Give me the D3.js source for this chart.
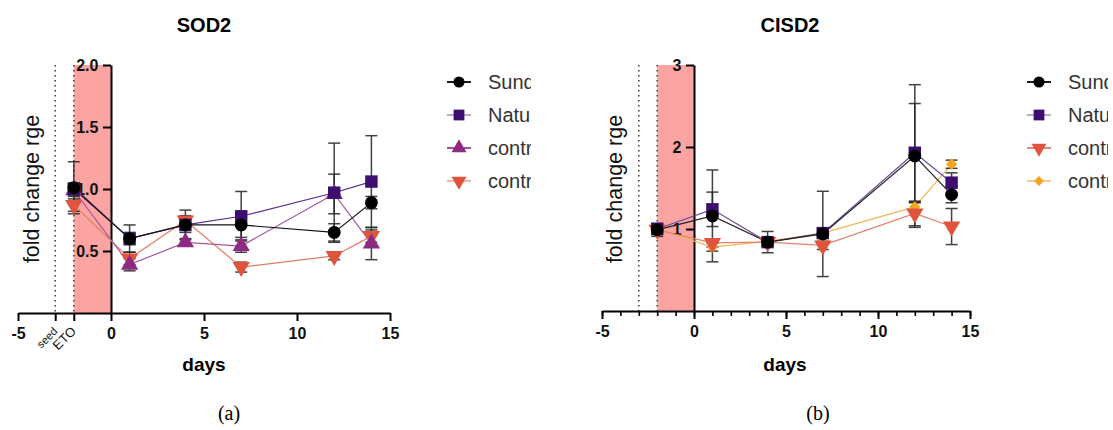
<!DOCTYPE html>
<html>
<head>
<meta charset="utf-8">
<script src="https://cdn.jsdelivr.net/npm/d3@7"></script>
<style>
  body { margin: 0; background: #fff; }
  svg { font-family: "Liberation Sans", Arial, sans-serif; }
</style>
</head>
<body>
<svg id="chart" width="1113" height="430"></svg>
<script>
// sampling days
const days = [-2, 1, 4, 7, 12, 14];

// SOD2 (panel a)
const sodNames = ["Sundew", "Nature", "control A", "control B"];
const sodSunc = [1.01, 0.60, 0.71, 0.71, 0.65, 0.89];
const sodSuncErr = [0.21, 0.11, 0.12, 0.10, 0.07, 0.05];
const sodNatu = [1.00, 0.60, 0.71, 0.78, 0.97, 1.06];
const sodNatuErr = [0.05, 0.05, 0.06, 0.20, 0.40, 0.37];
const sodContrA = [0.99, 0.39, 0.57, 0.54, 0.96, 0.56];
const sodContrAErr = [0.05, 0.05, 0.03, 0.05, 0.16, 0.13];
const sodContrB = [0.87, 0.44, 0.745, 0.37, 0.46, 0.62];
const sodContrBErr = [0.05, 0.05, 0.04, 0.04, 0.03, 0.05];

// CISD2 (panel b)
const cisNames = ["Sundew", "Nature", "control B", "control C"];
const cisSunc = [0.99, 1.16, 0.84, 0.94, 1.89, 1.42];
const cisSuncErr = [0.08, 0.56, 0.13, 0.52, 0.87, 0.10];
const cisNatu = [1.00, 1.24, 0.84, 0.95, 1.93, 1.565];
const cisNatuErr = [0.05, 0.21, 0.05, 0.05, 0.60, 0.12];
const cisContrB = [0.99, 0.83, 0.84, 0.80, 1.19, 1.03];
const cisContrBErr = [0.04, 0.05, 0.04, 0.05, 0.15, 0.22];
const cisContrC = [1.00, 0.78, 0.85, 0.95, 1.27, 1.79];
const cisContrCErr = [0.04, 0.05, 0.04, 0.05, 0.05, 0.05];

const xTicks = [-5, 0, 5, 10, 15];

const svg = d3.select("#chart");

function drawPanel(cfg) {
  const g = svg.append("g");
  const x = d3.scaleLinear().domain([-5, 15]).range(cfg.xRange);
  const y = d3.scaleLinear().domain([0, cfg.yMax]).range(cfg.yRange);

  // ETO treatment band
  g.append("rect")
    .attr("x", x(-2)).attr("y", y(cfg.yMax))
    .attr("width", x(0) - x(-2)).attr("height", y(0) - y(cfg.yMax))
    .attr("fill", "#fba4a2");

  // dotted markers for seed / ETO
  [-3, -2].forEach(v => {
    g.append("line")
      .attr("x1", x(v)).attr("x2", x(v))
      .attr("y1", y(cfg.yMax)).attr("y2", y(0))
      .attr("stroke", "#444").attr("stroke-width", 1.6)
      .attr("stroke-dasharray", "1.4,3.6");
  });

  // x axis
  let xVals = cfg.seedLabels ? [-5, -3, -2, 0, 5, 10, 15] : xTicks;
  if (cfg.minor) {
    g.append("g").attr("transform", `translate(0,${y(0)})`)
      .call(d3.axisBottom(x).tickValues(d3.range(-5, 16)).tickSize(5).tickFormat(""))
      .call(a => a.select(".domain").remove())
      .call(a => a.selectAll("line").attr("stroke-width", 1.6));
  }
  const xa = g.append("g").attr("transform", `translate(0,${y(0)})`)
    .call(d3.axisBottom(x).tickValues(xVals).tickSize(8).tickSizeOuter(0)
      .tickFormat(d => xTicks.includes(d) ? d : ""));
  xa.select(".domain").attr("stroke-width", 2);
  xa.selectAll("line").attr("stroke-width", 2);
  xa.selectAll("text").attr("font-size", 16).attr("font-weight", "bold").attr("fill", "#111").attr("dy", "0.95em");

  if (cfg.seedLabels) {
    [[-3, "seed", 11], [-2, "ETO", 13]].forEach(([v, t, fs]) => {
      g.append("text")
        .attr("transform", `translate(${x(v) + 3},${y(0) + 19}) rotate(-45)`)
        .attr("text-anchor", "end")
        .attr("font-size", fs)
        .attr("fill", "#111")
        .text(t);
    });
  }

  // y axis at x = 0
  const ya = g.append("g").attr("transform", `translate(${x(0)},0)`)
    .call(d3.axisLeft(y).tickValues(cfg.yTicks).tickSize(8).tickSizeOuter(0)
      .tickFormat(cfg.yFmt));
  ya.select(".domain").attr("stroke-width", 2);
  ya.selectAll("line").attr("stroke-width", 2);
  ya.selectAll("text").attr("font-size", 16).attr("font-weight", "bold").attr("fill", "#111").attr("dx", "-0.1em");

  // titles
  g.append("text").attr("x", cfg.titleX).attr("y", 32)
    .attr("text-anchor", "middle").attr("font-size", 20).attr("font-weight", "bold")
    .text(cfg.title);
  g.append("text").attr("x", cfg.daysX).attr("y", 371)
    .attr("text-anchor", "middle").attr("font-size", 19).attr("font-weight", "bold")
    .text("days");
  g.append("text")
    .attr("transform", `translate(${cfg.yLabelX},189) rotate(-90)`)
    .attr("text-anchor", "middle").attr("font-size", 21.5).attr("fill", "#111")
    .text("fold change rge");
  g.append("text").attr("x", cfg.subX).attr("y", 420)
    .attr("text-anchor", "middle").attr("font-size", 20)
    .attr("font-family", "'Liberation Serif', 'DejaVu Serif', serif")
    .text(cfg.sub);

  const line = d3.line().x((d, i) => x(days[i])).y(d => y(d));

  // series drawn last-first so the black one sits on top
  const series = cfg.series.slice().reverse();
  series.forEach(s => {
    g.append("path").datum(s.values)
      .attr("d", line).attr("fill", "none")
      .attr("stroke", s.lineColor).attr("stroke-width", 1.2);
  });
  series.forEach(s => {
    const eb = g.append("g").attr("stroke", "#222").attr("stroke-width", 1.5).attr("opacity", 0.85);
    s.values.forEach((v, i) => {
      const cx = x(days[i]);
      const lo = y(v - s.err[i]), hi = y(v + s.err[i]);
      eb.append("line").attr("x1", cx).attr("x2", cx).attr("y1", lo).attr("y2", hi);
      eb.append("line").attr("x1", cx - 6).attr("x2", cx + 6).attr("y1", lo).attr("y2", lo);
      eb.append("line").attr("x1", cx - 6).attr("x2", cx + 6).attr("y1", hi).attr("y2", hi);
    });
  });
  series.forEach(s => {
    g.selectAll(null).data(s.values).join("path")
      .attr("d", d3.symbol().type(s.symbol).size(s.size))
      .attr("transform", (d, i) => `translate(${x(days[i])},${y(d)})${s.rot ? ` rotate(${s.rot})` : ""}`)
      .attr("fill", s.color);
  });

  // legend, clipped at the panel edge like the source figure
  const clipId = "clip" + cfg.sub.replace(/\W/g, "");
  svg.append("clipPath").attr("id", clipId)
    .append("rect").attr("x", cfg.legX).attr("y", 60).attr("width", cfg.legClip - cfg.legX).attr("height", 140);
  const lg = g.append("g").attr("clip-path", `url(#${clipId})`);
  cfg.series.forEach((s, i) => {
    const ly = 82 + i * 33;
    lg.append("line").attr("x1", cfg.legX).attr("x2", cfg.legX + 24)
      .attr("y1", ly).attr("y2", ly)
      .attr("stroke", s.legLine).attr("stroke-width", 1.8);
    lg.append("path")
      .attr("d", d3.symbol().type(s.symbol).size(s.size * 0.75))
      .attr("transform", `translate(${cfg.legX + 12},${ly})${s.rot ? ` rotate(${s.rot})` : ""}`)
      .attr("fill", s.color);
    lg.append("text").attr("x", cfg.legX + 41).attr("y", ly + 7)
      .attr("font-size", 20).attr("fill", "#333").text(s.name);
  });
}

drawPanel({
  title: "SOD2", titleX: 204, daysX: 204, yLabelX: 39, sub: "(a)", subX: 229,
  xRange: [18, 390], yRange: [313, 65], yMax: 2, yTicks: [0.5, 1, 1.5, 2],
  yFmt: d3.format(".1f"), seedLabels: true, minor: false,
  legX: 447, legClip: 531,
  series: [
    { name: sodNames[0], values: sodSunc, err: sodSuncErr, color: "#000", lineColor: "#111", legLine: "#000", symbol: d3.symbolCircle, size: 130 },
    { name: sodNames[1], values: sodNatu, err: sodNatuErr, color: "#3d0e70", lineColor: "#5a2e8a", legLine: "#b6a0c9", symbol: d3.symbolSquare, size: 155 },
    { name: sodNames[2], values: sodContrA, err: sodContrAErr, color: "#8e2a82", lineColor: "#a7579c", legLine: "#9a3b8d", symbol: d3.symbolTriangle, size: 130 },
    { name: sodNames[3], values: sodContrB, err: sodContrBErr, color: "#e0533c", lineColor: "#e67b63", legLine: "#eeb0a2", symbol: d3.symbolTriangle, size: 130, rot: 180 }
  ]
});

drawPanel({
  title: "CISD2", titleX: 790, daysX: 785, yLabelX: 622, sub: "(b)", subX: 818,
  xRange: [602, 970], yRange: [311, 65], yMax: 3, yTicks: [1, 2, 3],
  yFmt: d3.format("d"), seedLabels: false, minor: true,
  legX: 1027, legClip: 1108,
  series: [
    { name: cisNames[0], values: cisSunc, err: cisSuncErr, color: "#000", lineColor: "#222", legLine: "#000", symbol: d3.symbolCircle, size: 130 },
    { name: cisNames[1], values: cisNatu, err: cisNatuErr, color: "#3d0e70", lineColor: "#6b4896", legLine: "#b6a0c9", symbol: d3.symbolSquare, size: 155 },
    { name: cisNames[2], values: cisContrB, err: cisContrBErr, color: "#e0533c", lineColor: "#e2806b", legLine: "#e57a66", symbol: d3.symbolTriangle, size: 130, rot: 180 },
    { name: cisNames[3], values: cisContrC, err: cisContrCErr, color: "#f7a51e", lineColor: "#f0b75a", legLine: "#e9c79a", symbol: d3.symbolSquare, size: 64, rot: 45 }
  ]
});
</script>
</body>
</html>
